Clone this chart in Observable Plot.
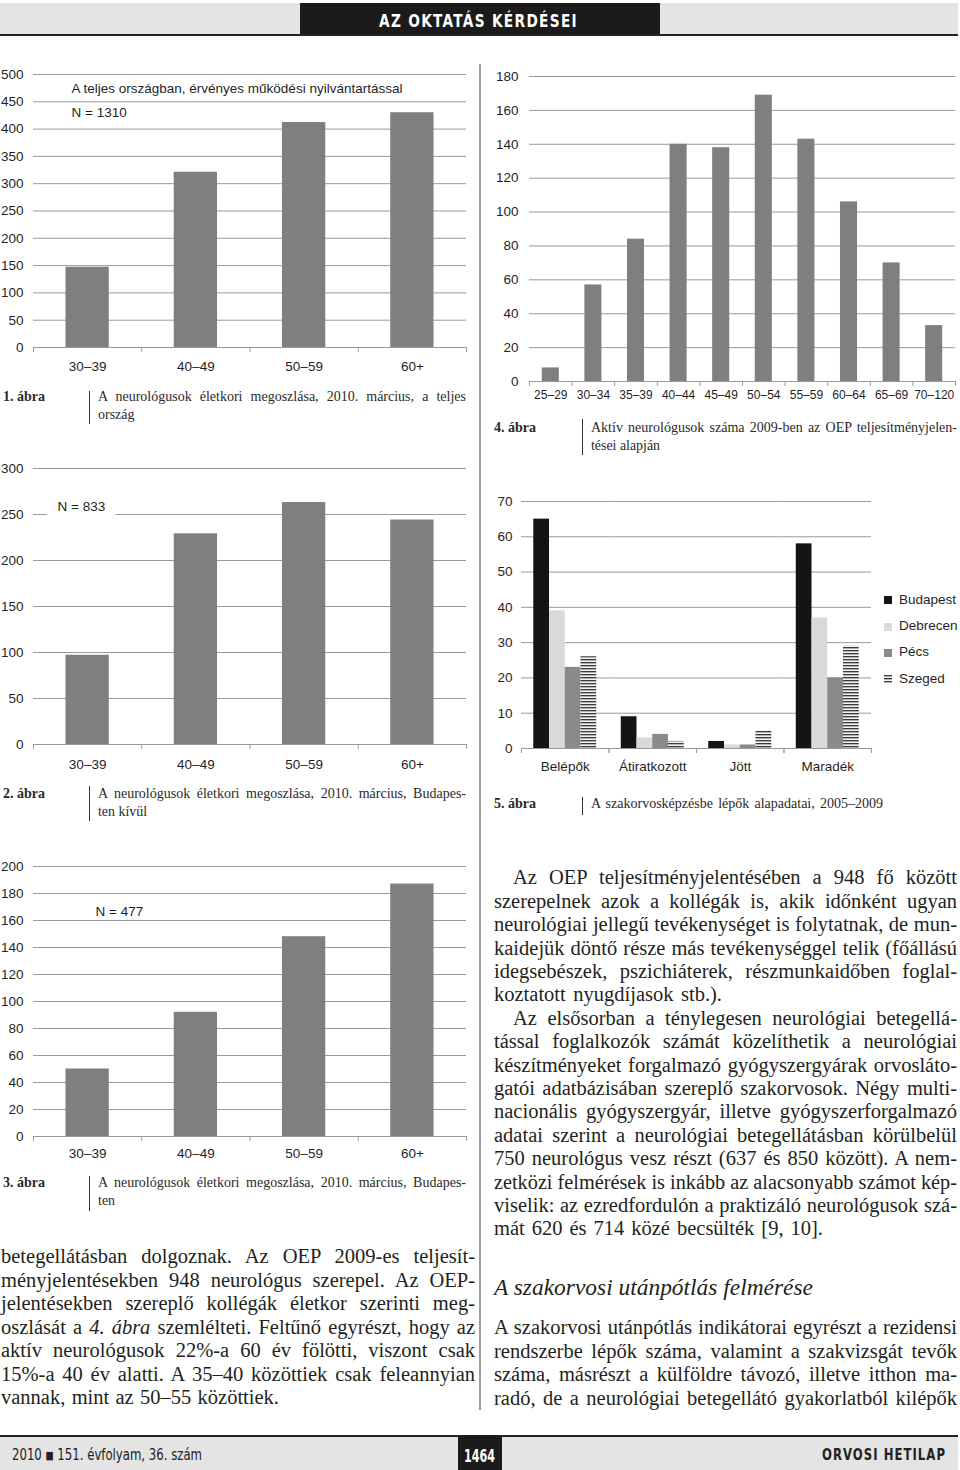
<!DOCTYPE html>
<html lang="hu">
<head>
<meta charset="utf-8">
<script src="https://cdn.jsdelivr.net/npm/d3@7"></script>
<script src="https://cdn.jsdelivr.net/npm/@observablehq/plot@0.6"></script>
<style>
html, body { margin: 0; padding: 0; background: #fff; }
#page { position: relative; width: 960px; height: 1470px; overflow: hidden; background: #fff;
  font-family: "Liberation Serif", "DejaVu Serif", serif; color: #231f20; }
.abs { position: absolute; }
.ln { position: absolute; white-space: nowrap; line-height: 1.2; }
.ln > span { display: inline-block; transform-origin: 0 50%; }
</style>
</head>
<body>
<svg width="0" height="0" style="position:absolute">
  <defs>
    <pattern id="szegedStripes" width="4" height="3" patternUnits="userSpaceOnUse">
      <rect width="4" height="3" fill="#f2f2f2"></rect>
      <rect width="4" height="1" fill="#3c3c3c"></rect>
      <rect y="1" width="4" height="1" fill="#b0b0b0"></rect>
    </pattern>
  </defs>
</svg>
<div id="page"></div>
<script>
// ---------------- DATA ----------------
const ageGroups = ["30–39", "40–49", "50–59", "60+"];
const countsNational = [147, 321, 412, 430];      // 1. ábra, N = 1310
const countsOutsideBudapest = [97, 229, 263, 244]; // 2. ábra, N = 833
const countsBudapest = [50, 92, 148, 187];         // 3. ábra, N = 477

const ageGroupsOEP = ["25–29", "30–34", "35–39", "40–44", "45–49", "50–54", "55–59", "60–64", "65–69", "70–120"];
const countsOEP = [8, 57, 84, 140, 138, 169, 143, 106, 70, 33]; // 4. ábra

const residencyGroups = ["Belépők", "Átiratkozott", "Jött", "Maradék"];
const cities = ["Budapest", "Debrecen", "Pécs", "Szeged"];
const valuesBudapest = [65, 9, 2, 58];
const valuesDebrecen = [39, 3, 1, 37];
const valuesPecs = [23, 4, 1, 20];
const valuesSzeged = [26, 2, 5, 29];
const cityColors = ["#141414", "#d9d9d9", "#8a8a8a", "url(#szegedStripes)"];

const ticks1 = [0, 50, 100, 150, 200, 250, 300, 350, 400, 450, 500];
const ticks2 = [0, 50, 100, 150, 200, 250, 300];
const ticks3 = [0, 20, 40, 60, 80, 100, 120, 140, 160, 180, 200];
const ticks4 = [0, 20, 40, 60, 80, 100, 120, 140, 160, 180];
const ticks5 = [0, 10, 20, 30, 40, 50, 60, 70];

const note1a = "A teljes országban, érvényes működési nyilvántartással";
const note1b = "N = 1310";
const note2 = "N = 833";
const note3 = "N = 477";

// ---------------- PAGE HELPERS ----------------
const page = document.getElementById("page");
const SERIF = '"Liberation Serif", "DejaVu Serif", serif';
const SANS = '"Liberation Sans", Arial, "DejaVu Sans", sans-serif';
const NARROW = '"Liberation Sans Narrow", "Arial Narrow", "DejaVu Sans Condensed", sans-serif';
const BODY = 20.5;
const fitQueue = [];

function box(left, top, w, h, bg) {
  const d = document.createElement("div");
  d.className = "abs";
  Object.assign(d.style, {left: left + "px", top: top + "px", width: w + "px", height: h + "px", background: bg});
  page.appendChild(d);
  return d;
}
function addLine(html, o) {
  const size = o.size || BODY;
  const k = o.k != null ? o.k : 0.66;
  const d = document.createElement("div");
  d.className = "ln";
  Object.assign(d.style, {
    left: o.x + "px", top: (o.yc - k * size) + "px", fontSize: size + "px",
    fontFamily: o.family || SERIF, fontWeight: o.weight || "normal",
    fontStyle: o.italic ? "italic" : "normal", color: o.color || "#231f20",
    letterSpacing: (o.ls || 0) + "px"
  });
  const s = document.createElement("span");
  s.innerHTML = html;
  d.appendChild(s);
  page.appendChild(d);
  if (o.w) fitQueue.push({s, w: o.w, mode: o.mode || "justify"});
  return d;
}
function runFits() {
  for (const {s, w, mode} of fitQueue) {
    const nat = s.getBoundingClientRect().width;
    const spaces = (s.textContent.match(/ /g) || []).length;
    if (mode === "fit" || nat > w) {
      s.style.transform = `scaleX(${w / nat})`;
    } else if (spaces > 0) {
      s.style.wordSpacing = ((w - nat) / spaces) + "px";
    }
  }
}
function place(node, left, top) {
  const d = document.createElement("div");
  d.className = "abs";
  d.style.left = left + "px";
  d.style.top = top + "px";
  d.appendChild(node);
  page.appendChild(d);
}

// ---------------- HEADER / FOOTER / RULES ----------------
box(0, 3, 958, 31, "#e4e4e4");
box(300, 3, 360, 31, "#1c1a1a");
box(0, 34, 958, 2, "#222");
addLine("AZ OKTATÁS KÉRDÉSEI", {x: 379, yc: 21, w: 199, mode: "fit", size: 17.5, family: NARROW, weight: "bold", color: "#fff", k: 0.59, ls: 1.5});

box(0, 1435, 958, 2, "#222");
box(0, 1437, 958, 33, "#e4e4e4");
box(458, 1435, 44, 35, "#1c1a1a");
addLine("2010 <span style='font-size:11px;position:relative;top:-1px'>■</span> 151. évfolyam, 36. szám", {x: 12, yc: 1455, w: 190, mode: "fit", size: 15, family: NARROW, color: "#222", k: 0.59});
addLine("1464", {x: 464, yc: 1456, w: 31, mode: "fit", size: 18, family: NARROW, weight: "bold", color: "#fff", k: 0.59});
addLine("ORVOSI HETILAP", {x: 822, yc: 1455, w: 124, mode: "fit", size: 15, family: NARROW, weight: "bold", color: "#222", k: 0.59, ls: 1.2});

box(479, 64, 2, 1346, "#9d9d9d");

// ---------------- CHARTS ----------------
const BAR = "#7f7f7f", GRID = "#9a9a9a", AXIS = "#9a9a9a", LABEL = "#1f1f1f";
const chartStyle = {fontFamily: SANS, fontSize: "13.5px", color: LABEL, background: "transparent", overflow: "visible"};

function ageBarChart(cats, vals, ticks, o) {
  const plotW = o.width - o.ml - o.mr, plotH = o.height - o.mt - o.mb;
  const yMax = ticks[ticks.length - 1];
  const step = plotW / cats.length;
  const tickLen = 5 * yMax / plotH;
  const rows = cats.map((c, i) => ({cat: c, value: vals[i]}));
  const notes = (o.notes || []).map(n => Plot.text([n.text], {
    text: d => d, frameAnchor: "top-left", textAnchor: "start", dx: n.dx, dy: n.dy,
    fill: LABEL, ...(n.halo ? {stroke: "#fff", strokeWidth: n.halo, paintOrder: "stroke", strokeLinejoin: "round"} : {})
  }));
  const svg = Plot.plot({
    width: o.width, height: o.height,
    marginLeft: o.ml, marginRight: o.mr, marginTop: o.mt, marginBottom: o.mb,
    style: chartStyle,
    x: {domain: cats, paddingInner: 0.6, paddingOuter: 0.3, round: false, tickSize: 0, tickPadding: o.xPad, label: null},
    y: {domain: [0, yMax], ticks: ticks, tickSize: 0, tickPadding: o.yPad, label: null},
    marks: [
      Plot.ruleY(ticks.slice(1), {stroke: GRID, strokeWidth: 1}),
      ...notes,
      Plot.barY(rows, {x: "cat", y: "value", fill: BAR}),
      Plot.ruleY([0], {stroke: AXIS}),
      Plot.ruleX(cats, {x: d => d, y1: 0, y2: -tickLen, dx: -step / 2, stroke: AXIS}),
      Plot.ruleX(cats.slice(-1), {x: d => d, y1: 0, y2: -tickLen, dx: step / 2, stroke: AXIS})
    ]
  });
  if (o.xFont) d3.select(svg).selectAll('g[aria-label^="x-axis"]').style("font-size", o.xFont + "px");
  return svg;
}

// 1. ábra
place(ageBarChart(ageGroups, countsNational, ticks1, {
  width: 478, height: 320, ml: 33, mr: 12, mt: 14, mb: 33, xPad: 14, yPad: 10,
  notes: [{text: note1a, dx: 38, dy: 9}, {text: note1b, dx: 38, dy: 33}]
}), 0, 60);

// 4. ábra
place(ageBarChart(ageGroupsOEP, countsOEP, ticks4, {
  width: 478, height: 360, ml: 49, mr: 3, mt: 16, mb: 39, xPad: 9, yPad: 11, xFont: 12
}), 480, 60);

// 2. ábra
place(ageBarChart(ageGroups, countsOutsideBudapest, ticks2, {
  width: 478, height: 320, ml: 33, mr: 12, mt: 13, mb: 31, xPad: 15, yPad: 10,
  notes: [{text: note2, dx: 24, dy: 33, halo: 24}]
}), 0, 455);

// 3. ábra
place(ageBarChart(ageGroups, countsBudapest, ticks3, {
  width: 478, height: 315, ml: 33, mr: 12, mt: 11, mb: 34, xPad: 12, yPad: 10,
  notes: [{text: note3, dx: 62, dy: 40}]
}), 0, 855);

// 5. ábra (grouped bars)
(function () {
  const W = 400, H = 300, ml = 41, mr = 9, mt = 16, mb = 37;
  const plotW = W - ml - mr, plotH = H - mt - mb;
  const po = 0.78;
  const innerStep = (plotW / residencyGroups.length) / (cities.length + 2 * po);
  const yMax = ticks5[ticks5.length - 1];
  const tickLen = 5 * yMax / plotH;
  const series = [valuesBudapest, valuesDebrecen, valuesPecs, valuesSzeged];
  const rows = [];
  residencyGroups.forEach((g, gi) => cities.forEach((c, ci) => rows.push({group: g, city: c, value: series[ci][gi]})));
  const svg = Plot.plot({
    width: W, height: H, marginLeft: ml, marginRight: mr, marginTop: mt, marginBottom: mb,
    style: chartStyle,
    facet: {data: rows, x: "group"},
    fx: {domain: residencyGroups, padding: 0, round: false, axis: "bottom", tickSize: 0, tickPadding: 13, label: null},
    x: {domain: cities, paddingInner: 0, paddingOuter: po, round: false, axis: null},
    y: {domain: [0, yMax], ticks: ticks5, tickSize: 0, tickPadding: 9, label: null},
    color: {domain: cities, range: cityColors},
    marks: [
      Plot.ruleY(ticks5.slice(1), {stroke: GRID, strokeWidth: 1}),
      Plot.barY(rows, {x: "city", y: "value", fill: "city"}),
      Plot.ruleY([0], {stroke: AXIS}),
      Plot.ruleX(cities.slice(0, 1), {x: d => d, y1: 0, y2: -tickLen, dx: -(po + 0.5) * innerStep, stroke: AXIS}),
      Plot.ruleX(cities.slice(-1), {x: d => d, y1: 0, y2: -tickLen, dx: (po + 0.5) * innerStep, stroke: AXIS})
    ]
  });
  place(svg, 480, 485);
})();

// legend for 5. ábra
const legendY = [600, 626.5, 652.5, 679];
cities.forEach((c, i) => {
  const sw = box(884, legendY[i] - 4, 8, 8, "");
  sw.style.background = i === 3
    ? "repeating-linear-gradient(to bottom, #3c3c3c 0 1px, #b0b0b0 1px 2px, #f2f2f2 2px 3px)"
    : cityColors[i];
  addLine(c, {x: 899, yc: legendY[i], size: 13.5, family: SANS, color: LABEL, k: 0.6});
});

// ---------------- CAPTIONS ----------------
const capColor = "#2a2a2a";
function caption(num, lx, tx, y, lines, widths, barTop, barBottom) {
  addLine(num + ". ábra", {x: lx, yc: y, size: 14, weight: "bold", color: capColor});
  lines.forEach((t, i) => addLine(t, {x: tx, yc: y + i * 18, w: widths[i], size: 14, color: capColor}));
  box(tx - 9, barTop, 1, barBottom - barTop, "#333");
}
caption(1, 3, 98, 398, ["A neurológusok életkori megoszlása, 2010. március, a teljes", "ország"], [368, 37], 391, 424);
caption(4, 494, 591, 429, ["Aktív neurológusok száma 2009-ben az OEP teljesítményjelen-", "tései alapján"], [366, 69], 419, 455);
caption(2, 3, 98, 795, ["A neurológusok életkori megoszlása, 2010. március, Budapes-", "ten kívül"], [368, 49], 786, 821);
caption(5, 494, 591, 805, ["A szakorvosképzésbe lépők alapadatai, 2005–2009"], [292], 797, 815);
caption(3, 3, 98, 1184, ["A neurológusok életkori megoszlása, 2010. március, Budapes-", "ten"], [368, 18], 1176, 1211);

// ---------------- BODY TEXT ----------------
const LH = 23.4;
const rightLines = [
  ["Az OEP teljesítményjelentésében a 948 fő között", 513, 444],
  ["szerepelnek azok a kollégák is, akik időnként ugyan", 494, 463],
  ["neurológiai jellegű tevékenységet is folytatnak, de mun-", 494, 463],
  ["kaidejük döntő része más tevékenységgel telik (főállású", 494, 463],
  ["idegsebészek, pszichiáterek, részmunkaidőben foglal-", 494, 463],
  ["koztatott nyugdíjasok stb.).", 494, 228],
  ["Az elsősorban a ténylegesen neurológiai betegellá-", 513, 444],
  ["tással foglalkozók számát közelíthetik a neurológiai", 494, 463],
  ["készítményeket forgalmazó gyógyszergyárak orvosláto-", 494, 463],
  ["gatói adatbázisában szereplő szakorvosok. Négy multi-", 494, 463],
  ["nacionális gyógyszergyár, illetve gyógyszerforgalmazó", 494, 463],
  ["adatai szerint a neurológiai betegellátásban körülbelül", 494, 463],
  ["750 neurológus vesz részt (637 és 850 között). A nem-", 494, 463],
  ["zetközi felmérések is inkább az alacsonyabb számot kép-", 494, 463],
  ["viselik: az ezredfordulón a praktizáló neurológusok szá-", 494, 463],
  ["mát 620 és 714 közé becsülték [9, 10].", 494, 329]
];
rightLines.forEach(([t, x, w], i) => addLine(t, {x, yc: 879 + i * LH, w}));

addLine("A szakorvosi utánpótlás felmérése", {x: 494, yc: 1289, w: 319, size: 24, italic: true});

const rightLines2 = [
  "A szakorvosi utánpótlás indikátorai egyrészt a rezidensi",
  "rendszerbe lépők száma, valamint a szakvizsgát tevők",
  "száma, másrészt a külföldre távozó, illetve itthon ma-",
  "radó, de a neurológiai betegellátó gyakorlatból kilépők"
];
rightLines2.forEach((t, i) => addLine(t, {x: 494, yc: 1329 + i * LH, w: 463}));

const leftLines = [
  ["betegellátásban dolgoznak. Az OEP 2009-es teljesít-", 474],
  ["ményjelentésekben 948 neurológus szerepel. Az OEP-", 474],
  ["jelentésekben szereplő kollégák életkor szerinti meg-", 474],
  ["oszlását a <i>4. ábra</i> szemlélteti. Feltűnő egyrészt, hogy az", 474],
  ["aktív neurológusok 22%-a 60 év fölötti, viszont csak", 474],
  ["15%-a 40 év alatti. A 35–40 közöttiek csak feleannyian", 474],
  ["vannak, mint az 50–55 közöttiek.", 278]
];
leftLines.forEach(([t, w], i) => addLine(t, {x: 1, yc: 1258 + i * 23.5, w}));

runFits();
</script>
</body>
</html>
